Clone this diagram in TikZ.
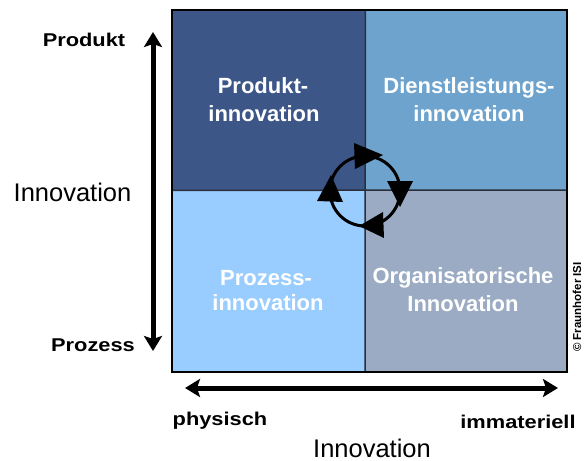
\documentclass[tikz,border=0pt]{standalone}
\usepackage{fontspec}
\setmainfont{Liberation Sans}
\newfontfamily\widefont[FakeStretch=1.18]{Liberation Sans}
\usetikzlibrary{arrows.meta}

\definecolor{qprod}{HTML}{3D5688}
\definecolor{qdienst}{HTML}{6DA3CD}
\definecolor{qproz}{HTML}{99CCFF}
\definecolor{qorg}{HTML}{9AABC3}
\definecolor{divider}{HTML}{2B2F3A}

\begin{document}
\begin{tikzpicture}[x=1pt,y=-1pt,
  quad/.style={rectangle, draw=none, inner sep=0pt, anchor=north west},
  qtext/.style={text=white, anchor=base, inner sep=0pt,
    font=\bfseries\fontsize{22}{26}\selectfont},
  sidelabel/.style={anchor=base, inner sep=0pt,
    font=\widefont\bfseries\fontsize{18.5}{22}\selectfont},
  axistitle/.style={anchor=base, inner sep=0pt,
    font=\fontsize{25.5}{30}\selectfont},
  axisarrow/.style={line width=5pt,
    {Stealth[length=15pt,width=18pt,inset=3pt]}-{Stealth[length=15pt,width=18pt,inset=3pt]}},
  turn/.style={fill=black}
]
\useasboundingbox (0,0) rectangle (587,461);

% four quadrants of the matrix
\node[quad, fill=qprod,   minimum width=193pt, minimum height=180pt] (qpd) at (172,10) {};
\node[quad, fill=qdienst, minimum width=202pt, minimum height=180pt] (qdl) at (365,10) {};
\node[quad, fill=qproz,   minimum width=193pt, minimum height=182pt] (qpz) at (172,190) {};
\node[quad, fill=qorg,    minimum width=202pt, minimum height=182pt] (qor) at (365,190) {};

% dividers and frame
\draw[divider, line width=1.5pt] (qpd.north east) -- (qor.south west);
\draw[divider, line width=1.5pt] (qpd.south west) -- (qor.north east);
\draw[black, line width=2pt] (qpd.north west) rectangle (qor.south east);

% quadrant captions
\node[qtext] (pd1) at (263,93)  {Produkt-};
\node[qtext] (pd2) at (264,121) {innovation};
\node[qtext] (dl1) at (469,93)  {Dienstleistungs-};
\node[qtext] (dl2) at (469,121) {innovation};
\node[qtext] (pz1) at (266,285) {Prozess-};
\node[qtext] (pz2) at (268,310) {innovation};
\node[qtext] (or1) at (463,283) {Organisatorische};
\node[qtext] (or2) at (463,311) {Innovation};

% cycle symbol in the centre
\node[circle, draw, line width=3pt, minimum size=70pt, inner sep=0pt] (cyc) at (365,191) {};
\fill[turn] (354,143) -- (355,169) -- (383,155) -- cycle;
\fill[turn] (387,181) -- (413,181) -- (400,207) -- cycle;
\fill[turn] (383,212) -- (384,238) -- (359,226) -- cycle;
\fill[turn] (317,201) -- (343,202) -- (331,175) -- cycle;

% vertical axis
\coordinate (vtop) at (153,32);
\coordinate (vbot) at (153,351);
\draw[axisarrow] (vtop) -- (vbot);
\node[sidelabel] (lprod) at (84,46)  {Produkt};
\node[sidelabel] (lproz) at (93,351) {Prozess};
\node[axistitle] (lvert) at (72.5,201) {Innovation};

% horizontal axis
\coordinate (hleft) at (185,388);
\coordinate (hright) at (558,388);
\draw[axisarrow] (hleft) -- (hright);
\node[sidelabel] (lphys) at (220,425) {physisch};
\node[sidelabel] (limm)  at (518,428) {immateriell};
\node[axistitle] (lhorz) at (372,457) {Innovation};

% copyright line
\node[rotate=90, inner sep=0pt, font=\bfseries\fontsize{11.5}{13}\selectfont] (copy) at (577,307) {© Fraunhofer ISI};
\end{tikzpicture}
\end{document}
